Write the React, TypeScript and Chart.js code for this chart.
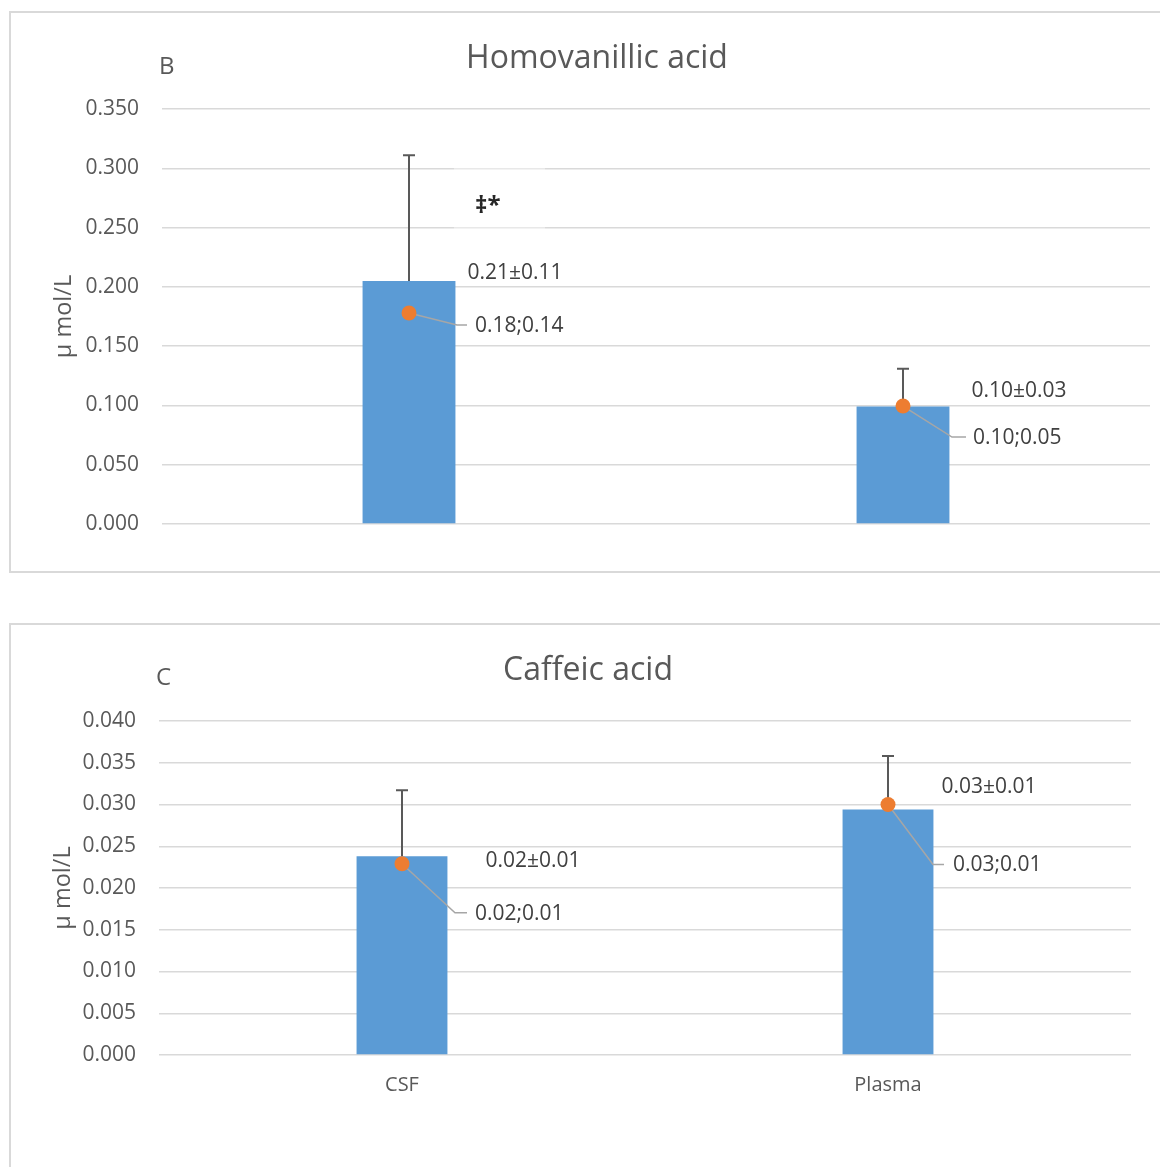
import React, { useEffect, useRef } from "react";
import { Chart, registerables } from "chart.js";

Chart.register(...registerables);

// ---------- data ----------
const categories = ["CSF", "Plasma"];

const hvaMean = [0.205, 0.099];
const hvaSd = [0.106, 0.032];
const hvaMedian = [0.178, 0.0995];
const hvaMeanLabels = ["0.21±0.11", "0.10±0.03"];
const hvaMedianLabels = ["0.18;0.14", "0.10;0.05"];
const hvaAxis = { min: 0, max: 0.35, step: 0.05 };

const caMean = [0.0238, 0.0294];
const caSd = [0.0079, 0.0064];
const caMedian = [0.0229, 0.03];
const caMeanLabels = ["0.02±0.01", "0.03±0.01"];
const caMedianLabels = ["0.02;0.01", "0.03;0.01"];
const caAxis = { min: 0, max: 0.04, step: 0.005 };

// ---------- styling ----------
const FONT = "'Open Sans', 'Noto Sans', sans-serif";
const AXIS_COLOR = "#595959";
const LABEL_COLOR = "#404040";
const GRID = "#d9d9d9";
const BAR = "#5B9BD5";
const DOT = "#ED7D31";
const LEADER = "#A6A6A6";

type Cfg = {
  width: number;
  height: number;
  padding: { left: number; top: number; right: number; bottom: number };
  yWidth: number;
  showX: boolean;
  xHeight: number;
  barPct: number;
  letter: string;
  letterPos: [number, number];
  title: string;
  titlePos: [number, number];
  yTitleX: number;
  mean: number[];
  sd: number[];
  median: number[];
  meanLabels: string[];
  medianLabels: string[];
  axis: { min: number; max: number; step: number };
  meanOff: [number, number][];
  medOff: [number, number, number, number, number][];
  sig?: { text: string; x: number; y: number; box: [number, number, number, number] };
};

function makeConfig(c: Cfg): any {
  const overlay = {
    id: "overlay",
    beforeDatasetsDraw(chart: any) {
      if (!c.sig) return;
      const ctx = chart.ctx;
      const [x0, y0, x1, y1] = c.sig.box;
      ctx.save();
      ctx.fillStyle = "rgba(255,255,255,0.4)";
      ctx.fillRect(x0, y0, x1 - x0, y1 - y0);
      ctx.restore();
    },
    afterDatasetDraw(chart: any, args: any) {
      if (args.index !== 1) return;
      const ctx = chart.ctx;
      const y = chart.scales.y;
      const bars = chart.getDatasetMeta(1).data;
      const pts = chart.getDatasetMeta(0).data;
      ctx.save();
      ctx.strokeStyle = "#595959";
      ctx.lineWidth = 2;
      bars.forEach((b: any, i: number) => {
        const yTop = y.getPixelForValue(c.mean[i] + c.sd[i]);
        const yBase = y.getPixelForValue(c.mean[i]);
        ctx.beginPath();
        ctx.moveTo(b.x, yBase);
        ctx.lineTo(b.x, yTop);
        ctx.moveTo(b.x - 6, yTop);
        ctx.lineTo(b.x + 6, yTop);
        ctx.stroke();
      });
      ctx.strokeStyle = LEADER;
      ctx.lineWidth = 1.5;
      pts.forEach((p: any, i: number) => {
        const [ex, ey, endX] = c.medOff[i];
        ctx.beginPath();
        ctx.moveTo(p.x, p.y);
        ctx.lineTo(p.x + ex, p.y + ey);
        ctx.lineTo(p.x + endX, p.y + ey);
        ctx.stroke();
      });
      ctx.restore();
    },
    afterDraw(chart: any) {
      const ctx = chart.ctx;
      const area = chart.chartArea;
      const bars = chart.getDatasetMeta(1).data;
      const pts = chart.getDatasetMeta(0).data;
      ctx.save();
      ctx.fillStyle = AXIS_COLOR;
      ctx.font = `24px ${FONT}`;
      ctx.textAlign = "left";
      ctx.textBaseline = "middle";
      ctx.fillText(c.letter, c.letterPos[0], c.letterPos[1]);
      ctx.font = `32px ${FONT}`;
      ctx.textAlign = "center";
      ctx.fillText(c.title, c.titlePos[0], c.titlePos[1]);
      ctx.save();
      ctx.translate(c.yTitleX, (area.top + area.bottom) / 2);
      ctx.rotate(-Math.PI / 2);
      ctx.font = `23.5px ${FONT}`;
      ctx.textAlign = "center";
      ctx.textBaseline = "middle";
      ctx.fillText("μ mol/L", 0, 0);
      ctx.restore();
      ctx.fillStyle = LABEL_COLOR;
      ctx.font = `21px ${FONT}`;
      ctx.textAlign = "left";
      ctx.textBaseline = "middle";
      bars.forEach((b: any, i: number) => {
        const [dx, dy] = c.meanOff[i];
        ctx.fillText(c.meanLabels[i], b.x + b.width / 2 + dx, b.y + dy);
      });
      pts.forEach((p: any, i: number) => {
        const o = c.medOff[i];
        ctx.fillText(c.medianLabels[i], p.x + o[3], p.y + o[4]);
      });
      if (c.sig) {
        ctx.font = `bold 24px ${FONT}`;
        ctx.fillStyle = "#262626";
        ctx.fillText(c.sig.text, c.sig.x, c.sig.y);
      }
      ctx.restore();
    },
  };

  return {
    type: "bar",
    data: {
      labels: categories,
      datasets: [
        {
          type: "line",
          data: c.median,
          showLine: false,
          pointRadius: 7.5,
          pointHoverRadius: 7.5,
          pointBackgroundColor: DOT,
          pointBorderColor: DOT,
          pointBorderWidth: 0,
          order: 0,
        },
        {
          type: "bar",
          data: c.mean,
          backgroundColor: BAR,
          borderWidth: 0,
          categoryPercentage: 1,
          barPercentage: c.barPct,
          order: 1,
        },
      ],
    },
    options: {
      animation: false,
      responsive: false,
      events: [],
      layout: { padding: c.padding },
      plugins: {
        legend: { display: false },
        tooltip: { enabled: false },
        title: { display: false },
      },
      scales: {
        x: {
          display: c.showX,
          grid: { display: false, drawTicks: false },
          border: { display: false },
          ticks: {
            color: AXIS_COLOR,
            font: { family: FONT, size: 20 },
            padding: 18,
          },
          afterFit(scale: any) {
            scale.height = c.xHeight;
          },
        },
        y: {
          min: c.axis.min,
          max: c.axis.max,
          grid: { color: GRID, lineWidth: 1.5, drawTicks: false },
          border: { display: false },
          ticks: {
            stepSize: c.axis.step,
            color: AXIS_COLOR,
            font: { family: FONT, size: 21 },
            padding: 23,
            callback: (v: any) => Number(v).toFixed(3),
          },
          afterFit(scale: any) {
            scale.width = c.yWidth;
          },
        },
      },
    },
    plugins: [overlay],
  };
}

function ChartCanvas({ cfg, left, top }: { cfg: Cfg; left: number; top: number }) {
  const ref = useRef<HTMLCanvasElement | null>(null);
  useEffect(() => {
    if (!ref.current) return;
    const chart = new Chart(ref.current, makeConfig(cfg));
    return () => chart.destroy();
  }, []);
  return (
    <canvas
      ref={ref}
      width={cfg.width}
      height={cfg.height}
      style={{ position: "absolute", left, top, width: cfg.width, height: cfg.height, display: "block" }}
    />
  );
}

const topCfg: Cfg = {
  width: 1160,
  height: 573,
  padding: { left: 0, top: 109, right: 10, bottom: 49 },
  yWidth: 162,
  showX: false,
  xHeight: 0,
  barPct: 0.188,
  letter: "B",
  letterPos: [159, 67],
  title: "Homovanillic acid",
  titlePos: [597, 59],
  yTitleX: 64,
  mean: hvaMean,
  sd: hvaSd,
  median: hvaMedian,
  meanLabels: hvaMeanLabels,
  medianLabels: hvaMedianLabels,
  axis: hvaAxis,
  meanOff: [
    [12, -8],
    [22, -16],
  ],
  medOff: [
    [48, 12, 58, 66, 13],
    [49, 31, 63, 70, 32],
  ],
  sig: { text: "‡*", x: 475, y: 206, box: [454, 160, 545, 234] },
};

const bottomCfg: Cfg = {
  width: 1160,
  height: 543,
  padding: { left: 0, top: 97, right: 29, bottom: 52 },
  yWidth: 159,
  showX: true,
  xHeight: 60,
  barPct: 0.187,
  letter: "C",
  letterPos: [156, 54],
  title: "Caffeic acid",
  titlePos: [588, 47],
  yTitleX: 63,
  mean: caMean,
  sd: caSd,
  median: caMedian,
  meanLabels: caMeanLabels,
  medianLabels: caMedianLabels,
  axis: caAxis,
  meanOff: [
    [38, 5],
    [8, -22],
  ],
  medOff: [
    [53, 49, 65, 73, 50],
    [45, 60, 56, 65, 61],
  ],
};

export default function App() {
  return (
    <div
      style={{
        position: "absolute",
        left: 0,
        top: 0,
        width: 1160,
        height: 1167,
        overflow: "hidden",
        background: "#ffffff",
      }}
    >
      <div
        style={{
          position: "absolute",
          left: 9,
          top: 11,
          width: 1200,
          height: 562,
          border: "2px solid #d9d9d9",
          boxSizing: "border-box",
        }}
      />
      <div
        style={{
          position: "absolute",
          left: 9,
          top: 623,
          width: 1200,
          height: 600,
          border: "2px solid #d9d9d9",
          boxSizing: "border-box",
        }}
      />
      <ChartCanvas cfg={topCfg} left={0} top={0} />
      <ChartCanvas cfg={bottomCfg} left={0} top={624} />
    </div>
  );
}
